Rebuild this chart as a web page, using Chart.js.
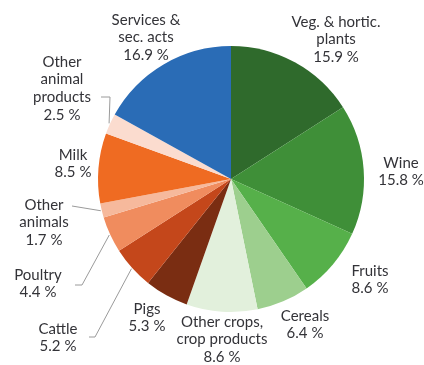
<!DOCTYPE html>
<html lang="en">
<head>
    <meta charset="UTF-8">
    <title>Agricultural output shares</title>
    <script src="https://cdn.jsdelivr.net/npm/chart.js"></script>
    <style>
        html, body {
            margin: 0;
            padding: 0;
            background: white;
        }
        #wrap {
            width: 424px;
            height: 365px;
        }
    </style>
</head>
<body>
<div id="wrap"><canvas id="share-chart"></canvas></div>
<script>
    // categories, clockwise from the top (each entry = label lines)
    const categories = [
        ['Veg. & hortic.', 'plants'],
        ['Wine'],
        ['Fruits'],
        ['Cereals'],
        ['Other crops,', 'crop products'],
        ['Pigs'],
        ['Cattle'],
        ['Poultry'],
        ['Other', 'animals'],
        ['Milk'],
        ['Other', 'animal', 'products'],
        ['Services &', 'sec. acts']
    ];
    const shares = [15.9, 15.8, 8.6, 6.4, 8.6, 5.3, 5.2, 4.4, 1.7, 8.5, 2.5, 16.9];
    const sliceColors = [
        '#2f6a2c', '#3f8f38', '#56b04a', '#9dcf8e', '#e2f0dc',
        '#7a2d12', '#c4471b', '#f08c5e', '#f6b99c', '#ef6b22', '#fbdccf',
        '#2a6cb6'
    ];

    // where each label block sits (centre of its first line)
    const labelPos = [
        [336, 22], [401, 163], [370, 271], [305, 316], [222, 322], [147, 309],
        [58, 329], [38, 275], [44, 205], [73, 155], [62, 62], [146, 20]
    ];
    const lineH = 17.6;

    // leader lines: points from the text out, last point goes to the slice edge
    const leaders = [
        { slice: 10, path: [[101, 97], [110, 97]] },
        { slice: 8, path: [[72, 206]] },
        { slice: 7, path: [[75, 285], [82, 285]] },
        { slice: 6, path: [[89, 337], [95, 337]] }
    ];

    const sliceLabels = {
        id: 'sliceLabels',
        afterDraw(chart) {
            const ctx = chart.ctx;
            const arcs = chart.getDatasetMeta(0).data;
            ctx.save();

            ctx.strokeStyle = '#9a9a9a';
            ctx.lineWidth = 1;
            leaders.forEach(l => {
                const arc = arcs[l.slice];
                const mid = (arc.startAngle + arc.endAngle) / 2;
                const r = arc.outerRadius + 1;
                ctx.beginPath();
                ctx.moveTo(l.path[0][0], l.path[0][1]);
                l.path.slice(1).forEach(p => ctx.lineTo(p[0], p[1]));
                ctx.lineTo(arc.x + Math.cos(mid) * r, arc.y + Math.sin(mid) * r);
                ctx.stroke();
            });

            ctx.font = '15px Lato';
            ctx.fillStyle = '#333338';
            ctx.textAlign = 'center';
            ctx.textBaseline = 'middle';
            categories.forEach((lines, i) => {
                const [x, y] = labelPos[i];
                const text = lines.concat(shares[i].toFixed(1) + ' %');
                text.forEach((t, k) => ctx.fillText(t, x, y + k * lineH));
            });
            ctx.restore();
        }
    };

    new Chart(document.getElementById('share-chart'), {
        type: 'pie',
        data: {
            labels: categories.map(c => c.join(' ')),
            datasets: [{
                data: shares,
                backgroundColor: sliceColors,
                borderWidth: 0
            }]
        },
        options: {
            responsive: true,
            maintainAspectRatio: false,
            animation: false,
            layout: {
                padding: { left: 98, right: 60, top: 46, bottom: 53 }
            },
            plugins: {
                legend: { display: false },
                tooltip: { enabled: false }
            }
        },
        plugins: [sliceLabels]
    });
</script>
</body>
</html>
